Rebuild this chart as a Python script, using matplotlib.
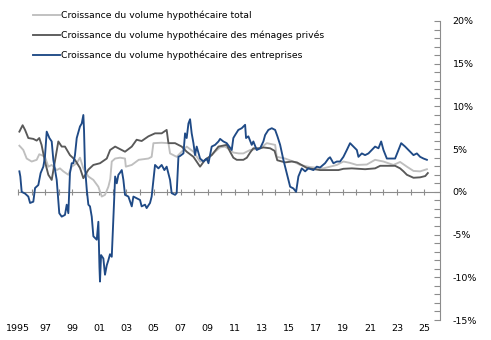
import matplotlib
matplotlib.use("Agg")
import matplotlib.pyplot as plt
from matplotlib.ticker import MultipleLocator, FuncFormatter

# --- données (années décimales, %) ---
labels = ["Croissance du volume hypothécaire total",
          "Croissance du volume hypothécaire des ménages privés",
          "Croissance du volume hypothécaire des entreprises"]

total_x = [1995.08, 1995.2, 1995.37, 1995.62, 1995.99, 1996.36, 1996.55, 1996.72, 1996.97,
           1997.22, 1997.47, 1997.84, 1998.08, 1998.33, 1998.7, 1998.95, 1999.32, 1999.56,
           1999.81, 2000.18, 2000.55, 2000.92, 2001.17, 2001.41, 2001.66, 2001.8, 2001.91,
           2002.16, 2002.53, 2002.89, 2002.95, 2003.39, 2003.9, 2004.62, 2004.86, 2004.99,
           2005.6, 2006.1, 2006.22, 2006.71, 2007.08, 2007.45, 2007.95, 2008.44, 2008.93,
           2009.55, 2009.92, 2010.29, 2010.66, 2010.9, 2011.3, 2011.64, 2012.14, 2012.88,
           2013.37, 2013.99, 2014.11, 2014.73, 2015.34, 2015.83, 2016.57, 2017.56, 2018.55,
           2019.04, 2019.5, 2020.03, 2020.77, 2021.38, 2022.0, 2022.74, 2023.23, 2023.73,
           2024.22, 2024.71, 2025.21]
total_y = [5.4, 5.2, 4.9, 3.9, 3.55, 3.75, 4.4, 4.3, 4.1,
           2.95, 3.15, 2.55, 2.75, 2.4, 2.0, 2.95, 3.35, 4.0,
           2.75, 1.8, 1.4, 0.6, -0.55, -0.35, 0.6, 1.5, 3.55,
           3.9, 4.0, 3.9, 2.95, 3.15, 3.75, 3.9, 4.1, 5.7,
           5.75, 5.7, 4.5, 4.1, 4.7, 5.3, 4.7, 3.55, 3.75,
           4.7, 5.2, 5.3, 4.9, 4.6, 4.5, 4.5, 4.9, 5.1,
           5.7, 5.5, 4.1, 3.9, 3.55, 3.15, 2.9, 2.75, 3.15,
           3.55, 3.4, 3.15, 3.2, 3.75, 3.55, 3.15, 3.5, 2.95,
           2.45, 2.4, 2.65]

menages_x = [1995.08, 1995.32, 1995.5, 1995.74, 1996.11, 1996.36, 1996.55, 1996.72, 1996.97,
             1997.22, 1997.47, 1997.66, 1997.96, 1998.21, 1998.45, 1998.82, 1999.19, 1999.56,
             1999.81, 2000.18, 2000.55, 2001.04, 2001.54, 2001.79, 2002.16, 2002.89, 2003.39,
             2003.75, 2004.12, 2004.62, 2005.11, 2005.6, 2005.97, 2006.1, 2006.59, 2007.08,
             2007.45, 2007.95, 2008.44, 2008.81, 2009.3, 2009.8, 2010.41, 2010.66, 2010.9,
             2011.15, 2011.64, 2011.9, 2012.14, 2012.38, 2012.88, 2013.12, 2013.62, 2013.95,
             2014.15, 2014.73, 2015.22, 2015.6, 2016.0, 2016.33, 2016.7, 2017.31, 2018.05,
             2018.67, 2019.04, 2019.66, 2020.64, 2021.38, 2021.76, 2022.13, 2022.86, 2023.23,
             2023.48, 2023.73, 2024.22, 2024.71, 2025.09, 2025.28]
menages_y = [7.05, 7.8, 7.25, 6.3, 6.2, 6.0, 6.3, 5.5, 3.55,
             2.0, 1.4, 3.15, 5.9, 5.3, 5.3, 4.3, 3.75, 2.8,
             1.6, 2.6, 3.15, 3.35, 3.9, 4.9, 5.3, 4.7, 5.3,
             6.1, 5.95, 6.5, 6.85, 6.85, 7.25, 5.7, 5.7, 5.3,
             4.7, 4.1, 2.95, 3.75, 4.3, 5.3, 5.5, 4.7, 4.0,
             3.75, 3.75, 4.0, 4.6, 5.1, 5.1, 5.2, 5.1, 4.8,
             3.7, 3.45, 3.55, 3.45, 3.1, 2.8, 2.7, 2.55, 2.55,
             2.55, 2.7, 2.75, 2.65, 2.75, 3.05, 3.05, 3.05, 2.75,
             2.4, 2.0, 1.65, 1.7, 1.85, 2.2]

entreprises_x = [1995.08, 1995.15, 1995.25, 1995.5, 1995.74, 1995.87, 1996.11, 1996.24, 1996.48,
                 1996.65, 1996.85, 1996.97, 1997.1, 1997.3, 1997.47, 1997.59, 1997.84, 1998.03,
                 1998.21, 1998.45, 1998.58, 1998.7, 1998.82, 1998.95, 1999.07, 1999.19, 1999.32,
                 1999.56, 1999.69, 1999.81, 1999.86, 1999.93, 2000.06, 2000.18, 2000.3, 2000.43,
                 2000.55, 2000.67, 2000.8, 2000.92, 2001.0, 2001.04, 2001.12, 2001.29, 2001.41,
                 2001.54, 2001.66, 2001.78, 2001.91, 2002.03, 2002.1, 2002.16, 2002.28, 2002.4,
                 2002.5, 2002.65, 2002.77, 2002.89, 2003.14, 2003.39, 2003.51, 2003.75, 2004.0,
                 2004.12, 2004.37, 2004.49, 2004.74, 2004.86, 2004.99, 2005.11, 2005.36, 2005.6,
                 2005.8, 2005.97, 2006.22, 2006.34, 2006.59, 2006.71, 2006.84, 2006.96, 2007.21,
                 2007.33, 2007.45, 2007.58, 2007.7, 2007.82, 2007.95, 2008.07, 2008.19, 2008.44,
                 2008.69, 2008.93, 2009.06, 2009.3, 2009.55, 2009.8, 2009.92, 2010.16, 2010.41,
                 2010.78, 2010.9, 2011.03, 2011.27, 2011.52, 2011.77, 2011.84, 2012.01, 2012.26,
                 2012.38, 2012.63, 2012.88, 2013.12, 2013.25, 2013.49, 2013.74, 2013.99, 2014.16,
                 2014.36, 2014.6, 2014.85, 2015.1, 2015.34, 2015.54, 2015.71, 2015.96, 2016.21,
                 2016.45, 2016.82, 2017.07, 2017.31, 2017.68, 2017.93, 2018.05, 2018.3, 2018.55,
                 2018.79, 2019.04, 2019.29, 2019.53, 2019.78, 2020.03, 2020.15, 2020.4, 2020.64,
                 2020.89, 2021.14, 2021.38, 2021.63, 2021.83, 2022.0, 2022.25, 2022.49, 2022.86,
                 2023.11, 2023.31, 2023.6, 2023.97, 2024.22, 2024.47, 2024.71, 2024.96, 2025.21]
entreprises_y = [2.4, 1.8, 0.0, -0.2, -0.55, -1.3, -1.15, 0.45, 0.8,
                 2.2, 2.95, 4.1, 7.05, 6.3, 5.9, 3.75, 1.4, -2.5,
                 -2.9, -2.7, -1.5, -2.5, 2.2, 3.35, 3.35, 4.3, 6.3,
                 7.65, 8.0, 9.0, 7.2, 2.95, 0.3, -1.5, -1.7, -2.9,
                 -5.2, -5.4, -5.6, -3.5, -8.8, -10.5, -7.4, -7.8, -9.7,
                 -8.6, -8.0, -7.3, -7.6, -3.0, -0.2, 1.8, 1.0, 2.0,
                 2.2, 2.55, 1.4, -0.35, -0.55, -1.7, -0.55, -0.75, -0.95,
                 -1.7, -1.5, -1.9, -1.3, -0.55, 1.4, 3.15, 2.75, 3.15,
                 2.55, 2.95, 1.4, -0.15, -0.35, -0.15, 4.1, 4.2, 4.5,
                 6.85, 6.3, 8.0, 8.5, 6.85, 5.7, 4.3, 5.3, 3.9,
                 3.55, 3.9, 3.35, 5.3, 5.5, 5.9, 6.2, 5.9, 5.7,
                 4.9, 6.3, 6.65, 7.25, 7.45, 7.85, 6.3, 6.5, 5.5,
                 5.9, 4.9, 5.1, 5.9, 6.65, 7.25, 7.45, 7.25, 6.5,
                 5.5, 3.75, 2.2, 0.6, 0.4, 0.0, 1.8, 2.75, 2.4,
                 2.75, 2.55, 2.95, 2.85, 3.35, 3.9, 4.05, 3.35, 3.55,
                 3.55, 4.1, 4.9, 5.7, 5.3, 4.9, 4.1, 4.5, 4.3,
                 4.5, 4.9, 5.3, 5.1, 5.9, 4.9, 3.9, 3.9, 3.9,
                 4.9, 5.7, 5.3, 4.7, 4.3, 4.5, 4.1, 3.9, 3.75]

year_ticks = list(range(1995, 2026))
label_years = list(range(1995, 2026, 2))
label_text = ["1995"] + ["%02d" % (y % 100) for y in label_years[1:]]

# --- figure ---
plt.rcParams["font.family"] = ["DejaVu Sans"]
plt.rcParams["font.size"] = 6.8

fig = plt.figure(figsize=(4.91, 3.40), dpi=100)
ax = fig.add_axes([18.3 / 491, 20 / 340, (440 - 18.3) / 491, 299 / 340])

axis_grey = "#8c8c8c"
colors = ["#bfbfbf", "#595959", "#1f4a86"]

ax.set_xlim(1995, 2026.18)
ax.set_ylim(-15, 20)

l1, = ax.plot(total_x, total_y, color=colors[0], lw=1.35, zorder=3)
l2, = ax.plot(menages_x, menages_y, color=colors[1], lw=1.35, zorder=4)
l3, = ax.plot(entreprises_x, entreprises_y, color=colors[2], lw=1.35, zorder=5)

for s in ["left", "top", "bottom"]:
    ax.spines[s].set_visible(False)
ax.spines["right"].set_color(axis_grey)
ax.spines["right"].set_linewidth(0.8)

# axe y à droite
ax.yaxis.tick_right()
ax.yaxis.set_major_locator(MultipleLocator(5))
ax.yaxis.set_minor_locator(MultipleLocator(1))
ax.yaxis.set_major_formatter(FuncFormatter(lambda v, p: "%d%%" % v))
ax.tick_params(axis="y", which="both", direction="in", length=4, width=0.8,
               color=axis_grey, pad=9)

# étiquettes des années en bas
ax.set_xticks(label_years)
ax.set_xticklabels(label_text)
ax.tick_params(axis="x", length=0, pad=3)

# ligne du zéro avec graduations annuelles
y0, y1 = ax.get_ylim()
zero = ax.secondary_xaxis((0 - y0) / (y1 - y0))
zero.set_xticks(year_ticks)
zero.set_xticklabels([])
zero.spines["bottom"].set_color(axis_grey)
zero.spines["bottom"].set_linewidth(0.8)
zero.tick_params(axis="x", direction="inout", length=5, width=0.8, color=axis_grey)

fig.legend([l1, l2, l3], labels, loc="upper left", bbox_to_anchor=(33 / 491, 1 - 11 / 340),
           frameon=False, handlelength=2.9, handletextpad=0.1, labelspacing=1.12,
           borderpad=0, borderaxespad=0, fontsize=6.7)

fig.savefig("out.png", dpi=100)
